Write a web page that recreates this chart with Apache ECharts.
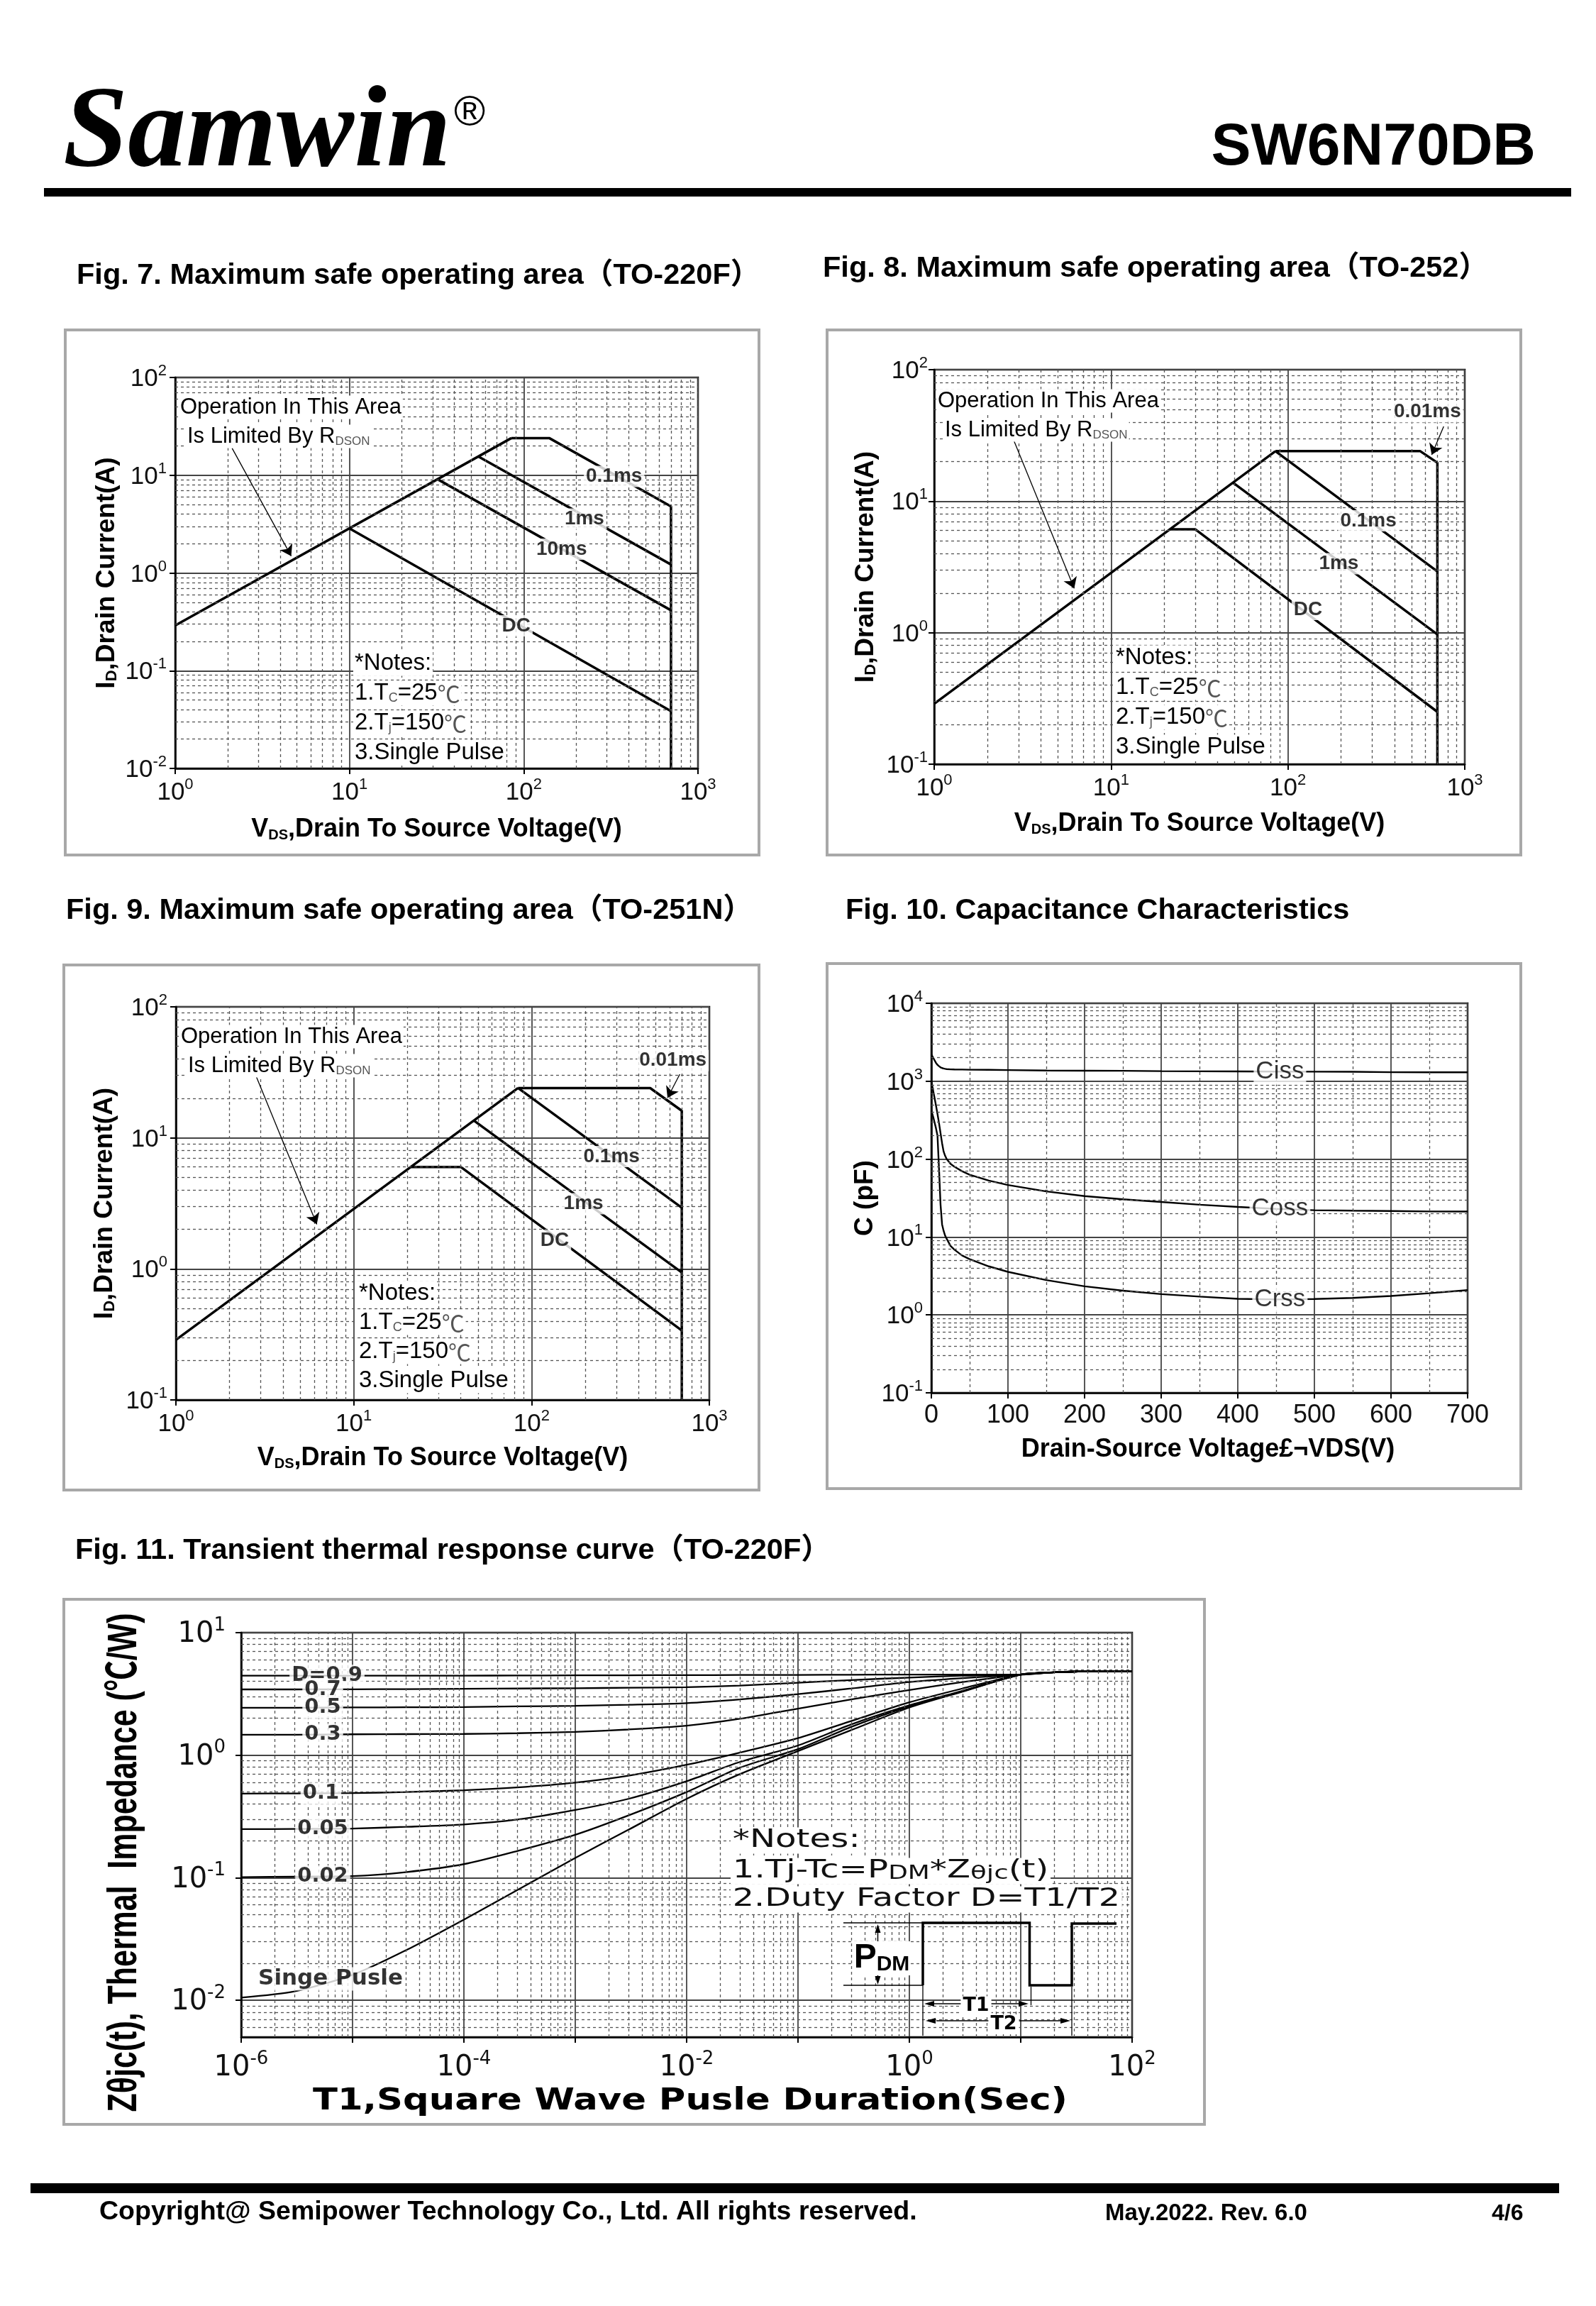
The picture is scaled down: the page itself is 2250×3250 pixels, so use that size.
<!DOCTYPE html>
<html><head><meta charset="utf-8">
<script src="https://cdn.jsdelivr.net/npm/echarts@6/dist/echarts.min.js"></script>
<style>html,body{margin:0;padding:0;background:#fff}#c{width:2250px;height:3250px}</style>
</head><body><div id="c"></div>
<script>
// ---------------- DATA ----------------
// Fig. 7  SOA (TO-220F)  [VDS (V), ID (A)]
const f7_rdson = [[1, 0.29], [85, 24]];
const f7_01ms  = [[85, 24], [140, 24], [700, 4.8], [700, 0.01]];
const f7_1ms   = [[55, 15.5], [700, 1.22]];
const f7_10ms  = [[32, 9.1], [700, 0.415]];
const f7_dc    = [[10, 2.85], [700, 0.0385]];
const f7_labels = [['0.1ms', 330, 9.7], ['1ms', 223, 3.56], ['10ms', 165, 1.75], ['DC', 90.5, 0.288]];
const f7_arrows = [[[2.12, 18.9], [4.63, 1.49]]];

// Fig. 8  SOA (TO-252)
const f8_rdson = [[1, 0.288], [85, 24]];
const f8_001ms = [[85, 24], [560, 24], [700, 19.6], [700, 0.1]];
const f8_01ms  = [[85, 24], [700, 2.92]];
const f8_1ms   = [[49, 13.8], [700, 0.97]];
const f8_dc    = [[21.5, 6.1], [30, 6.1], [700, 0.25]];
const f8_labels = [['0.01ms', 615, 47.7], ['0.1ms', 285, 7.1], ['1ms', 194, 3.34], ['DC', 130, 1.5]];
const f8_arrows = [[[2.78, 30.3], [6.19, 2.17]], [[760, 37], [650, 22.5]]];

// Fig. 9  SOA (TO-251N)
const f9_rdson = [[1, 0.287], [84, 24]];
const f9_001ms = [[84, 24], [465, 24], [700, 16.1], [700, 0.1]];
const f9_01ms  = [[84, 24], [700, 2.93]];
const f9_1ms   = [[47.6, 13.5], [700, 0.94]];
const f9_dc    = [[21, 6.0], [40, 6.0], [700, 0.339]];
const f9_labels = [['0.01ms', 624, 38.9], ['0.1ms', 282, 7.2], ['1ms', 196, 3.14], ['DC', 135, 1.65]];
const f9_arrows = [[[2.77, 31.6], [6.2, 2.19]], [[682, 30.6], [582, 20.2]]];

// Fig. 10 Capacitance  VDS (V) vs C (pF)
const f10_vds  = [0, 3, 6, 8, 10, 12, 14, 16, 18, 20, 25, 30, 40, 50, 75, 100, 150, 200, 250, 300, 350, 400, 450, 500, 550, 600, 650, 700];
const f10_ciss = [2200, 1950, 1720, 1620, 1560, 1505, 1475, 1455, 1440, 1430, 1420, 1415, 1410, 1405, 1400, 1390, 1372, 1365, 1360, 1345, 1340, 1335, 1330, 1325, 1320, 1305, 1300, 1300];
const f10_coss = [1000, 700, 490, 380, 290, 215, 160, 125, 110, 100, 87, 80, 70, 63, 53, 46.5, 38.5, 33.5, 30.5, 28.2, 26, 24.3, 23, 22.1, 21.8, 21.6, 21.3, 21.2];
const f10_crss = [420, 330, 250, 200, 75, 26, 14.5, 12, 10.4, 9.5, 7.7, 6.9, 5.8, 5.2, 4.2, 3.57, 2.8, 2.33, 2.05, 1.85, 1.72, 1.61, 1.58, 1.6, 1.65, 1.75, 1.9, 2.08];
const f10_labels = [['Ciss', 455, 1330], ['Coss', 455, 23], ['Crss', 455, 1.58]];

// Fig. 11 Transient thermal response  T1 (s) vs Zθjc (℃/W)
const f11_t    = [1e-6, 3e-6, 1e-5, 3e-5, 1e-4, 3e-4, 1e-3, 3e-3, 1e-2, 3e-2, 1e-1, 3e-1, 1, 3, 10, 20, 50, 100];
const f11_d09  = [4.45, 4.45, 4.45, 4.46, 4.46, 4.47, 4.48, 4.49, 4.5, 4.51, 4.52, 4.53, 4.55, 4.55, 4.55, 4.75, 4.85, 4.85];
const f11_d07  = [3.44, 3.44, 3.45, 3.46, 3.48, 3.5, 3.52, 3.55, 3.59, 3.7, 3.9, 4.1, 4.3, 4.45, 4.55, 4.75, 4.85, 4.85];
const f11_d05  = [2.44, 2.44, 2.45, 2.46, 2.47, 2.5, 2.53, 2.58, 2.66, 2.85, 3.15, 3.5, 3.95, 4.25, 4.55, 4.75, 4.85, 4.85];
const f11_d03  = [1.47, 1.47, 1.48, 1.485, 1.49, 1.51, 1.55, 1.62, 1.74, 1.98, 2.4, 2.85, 3.4, 3.95, 4.55, 4.75, 4.85, 4.85];
const f11_d01  = [0.486, 0.487, 0.49, 0.5, 0.517, 0.545, 0.597, 0.68, 0.835, 1.05, 1.38, 1.9, 2.7, 3.5, 4.55, 4.75, 4.85, 4.85];
const f11_d005 = [0.249, 0.25, 0.252, 0.26, 0.272, 0.298, 0.357, 0.44, 0.613, 0.88, 1.2, 1.78, 2.55, 3.35, 4.55, 4.75, 4.85, 4.85];
const f11_d002 = [0.101, 0.102, 0.103, 0.111, 0.129, 0.165, 0.224, 0.322, 0.5, 0.79, 1.12, 1.7, 2.5, 3.32, 4.55, 4.75, 4.85, 4.85];
const f11_sp   = [0.0105, 0.0118, 0.0161, 0.0255, 0.0455, 0.079, 0.145, 0.246, 0.44, 0.7, 1.08, 1.6, 2.45, 3.3, 4.55, 4.75, 4.85, 4.85];
const f11_labels = [['D=0.9', 5.9e-6, 4.45], ['0.7', 5.4e-6, 3.44], ['0.5', 5.4e-6, 2.44], ['0.3', 5.4e-6, 1.47], ['0.1', 5.2e-6, 0.487], ['0.05', 5.4e-6, 0.25], ['0.02', 5.4e-6, 0.102], ['Singe Pusle', 6.35e-6, 0.0149]];

// ---------------- STYLE / LAYOUT ----------------
const SANS = '"Liberation Sans", Arial, Helvetica, "Noto Sans CJK SC", sans-serif';
const WIDE = '"DejaVu Sans", "Liberation Sans", "Noto Sans CJK SC", sans-serif';
const SERIF = '"Liberation Serif", "Times New Roman", serif';
const CJK = '"Noto Sans CJK SC", sans-serif';

const GRIDS = [
  {left: 247, top: 532, width: 737, height: 551},
  {left: 1317, top: 521, width: 748, height: 556},
  {left: 248, top: 1419, width: 752, height: 554},
  {left: 1313, top: 1414, width: 756, height: 549},
  {left: 340, top: 2301, width: 1256, height: 570}
];

function isDecade(v) { const e = Math.log10(v); return Math.abs(e - Math.round(e)) < 1e-6; }
function supFmt(v) { if (!isDecade(v)) return ''; return '{a|10}{b|' + Math.round(Math.log10(v)) + '}'; }
function supFmtEven(v) { if (!isDecade(v)) return ''; const e = Math.round(Math.log10(v)); if (e % 2 !== 0) return ''; return '{a|10}{b|' + e + '}'; }
function tickRich(fs, sfs, pad, fam) {
  return {
    a: {fontSize: fs, fontFamily: fam, color: '#111', verticalAlign: 'bottom'},
    b: {fontSize: sfs, fontFamily: fam, color: '#111', verticalAlign: 'bottom', padding: [0, 0, pad, 0]}
  };
}
function nameRich(fs, sfs) {
  return {
    b: {fontSize: fs, fontWeight: 'bold', fontFamily: SANS, color: '#000', verticalAlign: 'bottom'},
    s: {fontSize: sfs, fontWeight: 'bold', fontFamily: SANS, color: '#000', verticalAlign: 'bottom'}
  };
}
function baseAxis(gi, type, min, max, extra) {
  return Object.assign({
    type: type, gridIndex: gi, min: min, max: max,
    axisLine: {show: true, onZero: false, lineStyle: {color: '#000', width: 2.5}},
    axisTick: {show: true, length: 8, lineStyle: {color: '#000', width: 2}},
    splitLine: {show: true, lineStyle: {color: '#444', width: 1.8}},
    minorTick: {show: false}, minorSplitLine: {show: false}
  }, type === 'log' ? {logBase: 10} : {}, extra);
}
function logMinors(d0, d1, mStart) {
  const out = [];
  for (let d = d0; d <= d1; d++) for (let m = (d === d0 && mStart) ? mStart : 2; m <= 9; m++) out.push(+(m * Math.pow(10, d)).toPrecision(6));
  return out;
}
function minorSeries(gi, xs, ys, corner) {
  return {
    type: 'line', xAxisIndex: gi, yAxisIndex: gi, data: [corner], symbol: 'none', silent: true, z: 1,
    lineStyle: {width: 0}, animation: false,
    markLine: {
      silent: true, symbol: ['none', 'none'], precision: 12, animation: false,
      label: {show: false}, emphasis: {disabled: true},
      lineStyle: {type: [4, 4], color: '#555', width: 1.3},
      data: xs.map(v => ({xAxis: v})).concat(ys.map(v => ({yAxis: v})))
    }
  };
}
function lineS(gi, data, w, extra) {
  return Object.assign({
    type: 'line', xAxisIndex: gi, yAxisIndex: gi, data: data, symbol: 'none', showSymbol: false,
    lineStyle: {color: '#000', width: w}, z: 3, silent: true, animation: false
  }, extra);
}
function arrowML(arrows) {
  return {
    silent: true, symbol: ['none', 'arrow'], symbolSize: 15, animation: false,
    label: {show: false}, emphasis: {disabled: true},
    lineStyle: {type: 'solid', color: '#000', width: 1.3},
    data: arrows.map(a => [{coord: a[0]}, {coord: a[1]}])
  };
}
function labelS(gi, items, fs, fam, weight) {
  return {
    type: 'scatter', xAxisIndex: gi, yAxisIndex: gi, symbolSize: 1, silent: true, z: 10, animation: false,
    itemStyle: {color: 'rgba(0,0,0,0)'},
    data: items.map(it => ({name: it[0], value: [it[1], it[2]]})),
    label: {show: true, position: 'inside', formatter: '{b}', color: '#000', fontFamily: fam, fontSize: fs,
      fontWeight: weight, backgroundColor: '#fff', padding: [1, 3]}
  };
}

// ---------------- AXES ----------------
const msoaRich = tickRich(35, 22, 18, SANS);
const xAxes = [], yAxes = [];
function soaAxes(gi, ymin, ymax, xGap, yGap, xMargin, yMargin) {
  xAxes.push(baseAxis(gi, 'log', 1, 1000, {
    axisLabel: {formatter: supFmt, margin: xMargin, rich: msoaRich, fontSize: 35},
    name: '{b|V}{s|DS}{b|,Drain To Source Voltage(V)}', nameLocation: 'middle', nameGap: xGap,
    nameTextStyle: {rich: nameRich(36, 20)}
  }));
  yAxes.push(baseAxis(gi, 'log', ymin, ymax, {
    axisLabel: {formatter: supFmt, margin: yMargin, rich: msoaRich, fontSize: 35},
    name: '{b|I}{s|D}{b|,Drain Current(A)}', nameLocation: 'middle', nameGap: yGap,
    nameTextStyle: {rich: nameRich(37, 22)}
  }));
}
soaAxes(0, 0.01, 100, 68, 78, 12, 12);
soaAxes(1, 0.1, 100, 66, 78, 12, 9);
soaAxes(2, 0.1, 100, 64, 82, 12, 12);
// Fig 10
xAxes.push(baseAxis(3, 'value', 0, 700, {
  interval: 100,
  axisLabel: {fontSize: 36, fontFamily: SANS, color: '#111', margin: 14},
  name: 'Drain-Source Voltage£¬VDS(V)', nameLocation: 'middle', nameGap: 62,
  nameTextStyle: {fontSize: 36, fontWeight: 'bold', fontFamily: SANS, color: '#000', padding: [0, 0, 0, 24]}
}));
yAxes.push(baseAxis(3, 'log', 0.1, 10000, {
  axisLabel: {formatter: supFmt, margin: 12, rich: msoaRich, fontSize: 35},
  name: 'C (pF)', nameLocation: 'middle', nameGap: 62,
  nameTextStyle: {fontSize: 37, fontWeight: 'bold', fontFamily: SANS, color: '#000'}
}));
// Fig 11
const f11Rich = tickRich(40, 26, 20, WIDE);
xAxes.push(baseAxis(4, 'log', 1e-6, 100, {
  axisLabel: {formatter: supFmtEven, margin: 18, rich: f11Rich, fontSize: 40}
}));
yAxes.push(baseAxis(4, 'log', 0.005, 10, {
  axisLabel: {formatter: supFmt, margin: 22, rich: f11Rich, fontSize: 40, showMinLabel: false}
}));

// ---------------- SERIES ----------------
const series = [];
const xSoaMin = logMinors(0, 2);
series.push(minorSeries(0, xSoaMin, logMinors(-2, 1), [1, 0.01]));
series.push(lineS(0, f7_rdson, 3.5, {markLine: arrowML(f7_arrows)}));
[f7_01ms, f7_1ms, f7_10ms, f7_dc].forEach(d => series.push(lineS(0, d, 3.5)));
series.push(labelS(0, f7_labels, 28, SANS, 'bold'));

series.push(minorSeries(1, xSoaMin, logMinors(-1, 1), [1, 0.1]));
series.push(lineS(1, f8_rdson, 3.5, {markLine: arrowML(f8_arrows)}));
[f8_001ms, f8_01ms, f8_1ms, f8_dc].forEach(d => series.push(lineS(1, d, 3.5)));
series.push(labelS(1, f8_labels, 28, SANS, 'bold'));

series.push(minorSeries(2, xSoaMin, logMinors(-1, 1), [1, 0.1]));
series.push(lineS(2, f9_rdson, 3.5, {markLine: arrowML(f9_arrows)}));
[f9_001ms, f9_01ms, f9_1ms, f9_dc].forEach(d => series.push(lineS(2, d, 3.5)));
series.push(labelS(2, f9_labels, 28, SANS, 'bold'));

const f10xMinor = [50, 150, 250, 350, 450, 550, 650];
series.push(minorSeries(3, f10xMinor, logMinors(-1, 3), [0, 0.1]));
[f10_ciss, f10_coss, f10_crss].forEach(c => series.push(lineS(3, f10_vds.map((v, i) => [v, c[i]]), 2.4)));
series.push(labelS(3, f10_labels, 35, SANS, 'normal'));

series.push(minorSeries(4, logMinors(-6, 1), logMinors(-3, 0, 6), [1e-6, 0.005]));
[f11_d09, f11_d07, f11_d05, f11_d03, f11_d01, f11_d005, f11_d002, f11_sp].forEach(c =>
  series.push(lineS(4, f11_t.map((t, i) => [t, c[i]]), 2.3, {smooth: 0.25})));
series.push(labelS(4, f11_labels.slice(0, 7), 29, WIDE, 'bold'));
series.push(labelS(4, f11_labels.slice(7), 31, WIDE, 'bold'));

// ---------------- GRAPHIC (page decoration & annotations) ----------------
const G = [];
function T(x, y, text, st, el) {
  const style = Object.assign({text: text, fill: '#000', fontSize: 30, fontFamily: SANS, align: 'left', textAlign: 'left',
    verticalAlign: 'middle', textVerticalAlign: 'middle'}, st);
  if (style.align) style.textAlign = style.align;
  if (style.verticalAlign) style.textVerticalAlign = style.verticalAlign;
  G.push(Object.assign({type: 'text', x: x, y: y, z: 100, silent: true, style: style}, el));
}
function L(x1, y1, x2, y2, w) {
  G.push({type: 'line', z: 100, silent: true, shape: {x1: x1, y1: y1, x2: x2, y2: y2}, style: {stroke: '#000', lineWidth: w}});
}
function tri(x, y, dir, len, half) {
  let pts;
  if (dir === 'l') pts = [[x, y], [x + len, y - half], [x + len, y + half]];
  else if (dir === 'r') pts = [[x, y], [x - len, y - half], [x - len, y + half]];
  else if (dir === 'u') pts = [[x, y], [x - half, y + len], [x + half, y + len]];
  else pts = [[x, y], [x - half, y - len], [x + half, y - len]];
  G.push({type: 'polygon', z: 101, silent: true, shape: {points: pts}, style: {fill: '#000'}});
}
// header
T(89, 191, 'Samwin', {fontSize: 164, fontFamily: SERIF, fontWeight: 'bold', fontStyle: 'italic'});
T(640, 160, '®', {fontSize: 60, fontFamily: SANS});
T(2165, 209, 'SW6N70DB', {fontSize: 84, fontFamily: SANS, fontWeight: 'bold', align: 'right'});
G.push({type: 'rect', z: 100, silent: true, shape: {x: 62, y: 265, width: 2153, height: 12}, style: {fill: '#000'}});
// titles
const TT = {fontSize: 41.5, fontWeight: 'bold'};
T(108, 389, 'Fig. 7. Maximum safe operating area（TO-220F）', TT);
T(1160, 379, 'Fig. 8. Maximum safe operating area（TO-252）', TT);
T(93, 1284, 'Fig. 9. Maximum safe operating area（TO-251N）', TT);
T(1192, 1284, 'Fig. 10. Capacitance Characteristics', TT);
T(106, 2186, 'Fig. 11. Transient thermal response curve（TO-220F）', TT);
// boxes
[[92, 465, 978, 740], [1166, 465, 978, 740], [90, 1360, 980, 740], [1166, 1358, 978, 740], [90, 2254, 1608, 740]].forEach(b =>
  G.push({type: 'rect', z: 0, silent: true, shape: {x: b[0], y: b[1], width: b[2], height: b[3]}, style: {fill: 'none', stroke: '#a8a8a8', lineWidth: 4}}));
// RDSON annotation
const subR = {s: {fontSize: 17, fontFamily: SANS, fill: '#555', verticalAlign: 'bottom'}};
function rdsonNote(x, y) {
  T(x, y, 'Operation In This Area', {fontSize: 31, backgroundColor: '#fff', padding: [1, 2]});
  T(x + 10, y + 41, 'Is Limited By R{s|DSON}', {fontSize: 31, backgroundColor: '#fff', padding: [1, 2], rich: subR});
}
rdsonNote(252, 574);
rdsonNote(1320, 565);
rdsonNote(253, 1461);
// SOA notes
const noteRich = {
  s: {fontSize: 18, fontFamily: SANS, fill: '#555', verticalAlign: 'bottom'},
  c: {fontSize: 32, fontFamily: CJK, fill: '#555', verticalAlign: 'bottom'}
};
function soaNotes(x, y, dy) {
  ['*Notes:', '1.T{s|C}=25{c|℃}', '2.T{s|j}=150{c|℃}', '3.Single Pulse'].forEach((t, i) =>
    T(x, y + i * dy, t, {fontSize: 33, backgroundColor: '#fff', padding: [1, 2], rich: noteRich}));
}
soaNotes(498, 935, 42);
soaNotes(1571, 927, 42);
soaNotes(504, 1823, 41);
// Fig 11 axis titles
T(176, 2625, 'Zθjc(t), Thermal  Impedance (℃/W)', {fontSize: 58, fontWeight: 'bold', align: 'center'}, {rotation: Math.PI / 2, scaleX: 0.74});
T(973, 2962, 'T1,Square Wave Pusle Duration(Sec)', {fontSize: 42, fontWeight: 'bold', fontFamily: WIDE, align: 'center'}, {scaleX: 1.22});
// Fig 11 notes
const n11Rich = {
  s: {fontSize: 26, fontFamily: WIDE, fill: '#111', verticalAlign: 'bottom'},
  t: {fontSize: 27, fontFamily: WIDE, fill: '#111', verticalAlign: 'bottom'}
};
T(1030, 2594, '*Notes:', {fontSize: 35, fontFamily: WIDE, fill: '#111', backgroundColor: '#fff', padding: [1, 2]}, {scaleX: 1.38});
T(1030, 2637, '1.Tj-Tc=P{s|DM}*Z{t|θjc}(t)', {fontSize: 35, fontFamily: WIDE, fill: '#111', backgroundColor: '#fff', padding: [1, 2], rich: n11Rich}, {scaleX: 1.38});
T(1030, 2677, '2.Duty Factor D=T1/T2', {fontSize: 35, fontFamily: WIDE, fill: '#111', backgroundColor: '#fff', padding: [1, 2]}, {scaleX: 1.36});
// Fig 11 pulse sketch
G.push({type: 'polyline', z: 100, silent: true,
  shape: {points: [[1301, 2798], [1301, 2710], [1451.5, 2710], [1451.5, 2798], [1511, 2798], [1511, 2711], [1574, 2711]]},
  style: {stroke: '#000', lineWidth: 3.5, fill: null}});
L(1189, 2710, 1301, 2710, 1.3);
L(1189, 2798, 1301, 2798, 1.3);
L(1301, 2798, 1301, 2869, 1.3);
L(1453.5, 2800, 1453.5, 2826, 1.3);
L(1511, 2800, 1511, 2869, 1.3);
L(1237.5, 2738, 1237.5, 2722, 1.5); tri(1237.5, 2712, 'u', 12, 4);
L(1237.5, 2782, 1237.5, 2786, 1.5); tri(1237.5, 2797, 'd', 12, 4);
L(1315, 2824, 1445, 2824, 1.5); tri(1303, 2824, 'l', 14, 4); tri(1450, 2824, 'r', 14, 4);
L(1320, 2848, 1500, 2848, 1.5); tri(1305, 2848, 'l', 14, 4); tri(1509, 2848, 'r', 14, 4);
T(1243, 2760, '{p|P}{d|DM}', {align: 'center', backgroundColor: '#fff', padding: [0, 1],
  rich: {p: {fontSize: 48, fontWeight: 'bold', fontFamily: SANS, fill: '#000', verticalAlign: 'bottom'},
         d: {fontSize: 30, fontWeight: 'bold', fontFamily: SANS, fill: '#000', verticalAlign: 'bottom'}}});
T(1376, 2827, 'T1', {fontSize: 27, fontWeight: 'bold', fontFamily: WIDE, align: 'center', backgroundColor: '#fff', padding: [0, 3]});
T(1415, 2853, 'T2', {fontSize: 27, fontWeight: 'bold', fontFamily: WIDE, align: 'center', backgroundColor: '#fff', padding: [0, 3]});
// footer
G.push({type: 'rect', z: 100, silent: true, shape: {x: 43, y: 3077, width: 2155, height: 14}, style: {fill: '#000'}});
T(140, 3118, 'Copyright@ Semipower Technology Co., Ltd. All rights reserved.', {fontSize: 37.5, fontWeight: 'bold'});
T(1558, 3120, 'May.2022. Rev. 6.0', {fontSize: 33, fontWeight: 'bold'});
T(2103, 3120, '4/6', {fontSize: 32, fontWeight: 'bold'});

// ---------------- CHART ----------------
const chart = echarts.init(document.getElementById('c'), null, {renderer: 'canvas'});
chart.setOption({
  backgroundColor: '#fff',
  animation: false,
  grid: GRIDS.map(g => Object.assign({show: true, borderColor: '#000', borderWidth: 2.5, backgroundColor: 'rgba(0,0,0,0)', containLabel: false}, g)),
  xAxis: xAxes,
  yAxis: yAxes,
  series: series,
  graphic: {elements: G}
});
</script></body></html>
